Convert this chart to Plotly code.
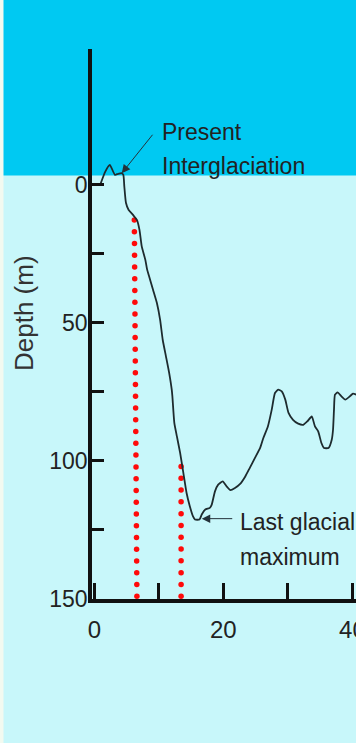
import numpy as np
import plotly.graph_objects as go

# ---- data ----
age_ka = [1.0, 1.7, 2.4, 3.2, 3.7, 4.25, 4.5, 4.65, 4.9, 5.3,
          6.0, 6.6, 7.0, 7.35, 7.9, 8.2, 8.5, 9.1, 9.7, 10.2,
          10.6, 11.1, 11.6, 12.0, 12.1, 12.4, 12.8, 13.3, 13.8, 14.3,
          14.8, 15.3, 15.6, 16.3, 16.65, 17.2, 17.9, 18.2, 18.7, 19.2,
          19.9, 20.5, 21.1, 21.8, 22.6, 23.4, 24.1, 24.9, 25.7, 26.2,
          26.9, 27.5, 28.0, 28.5, 29.05, 29.6, 30.1, 30.8, 31.6, 32.4,
          33.0, 33.7, 34.2, 34.7, 35.2, 35.6, 36.3, 36.8, 37.0, 37.15,
          37.3, 37.7, 38.3, 38.9, 39.6, 40.1, 40.6]
depth_m = [-0.6, -4.8, -7.2, -3.6, -4.0, -4.2, -3.6, 0.6, 6.5, 9.0,
           10.9, 12.7, 16.3, 22.3, 27.1, 30.8, 33.2, 38.0, 42.8, 48.9,
           56.1, 62.1, 68.1, 74.2, 76.6, 86.2, 91.1, 97.1, 104.3, 111.6,
           116.4, 120.1, 121.2, 121.2, 119.4, 117.6, 117.0, 115.8, 111.0, 108.6,
           107.4, 109.2, 110.6, 109.8, 108.3, 105.6, 102.5, 98.9, 95.3, 91.7,
           87.5, 81.4, 75.4, 74.2, 74.8, 77.8, 82.6, 85.1, 86.5, 86.9,
           85.7, 83.9, 87.5, 89.3, 93.5, 95.3, 95.3, 92.3, 88.7, 81.4,
           76.0, 75.2, 76.6, 77.8, 76.6, 75.6, 76.0]

# red dotted marker lines: (age at top, age at bottom, depth top, depth bottom)
marker_age_top = [6.2, 13.45]
marker_age_bottom = [6.6, 13.45]
marker_depth_top = [12.7, 102.0]
marker_depth_bottom = [149.0, 149.0]
dot_spacing_m = 4.27

sea_level_m = -3.4

y_ticks = [0, 25, 50, 75, 100, 125, 150]
y_ticktext = ["0", "", "50", "", "100", "", "150"]
x_ticks = [0, 10, 20, 30, 40]
x_ticktext = ["0", "", "20", "", "40"]

X_RANGE = [-0.36, 40.56]
Y_RANGE = [150, -49.2]

FONT = "Liberation Sans Narrow, Arial Narrow, Liberation Sans, Arial, sans-serif"
REG = "Liberation Sans, Arial, sans-serif"
TXT = "#222222"

fig = go.Figure()

# red dotted lines
for at, ab, dt, db in zip(marker_age_top, marker_age_bottom, marker_depth_top, marker_depth_bottom):
    n = int(round((db - dt) / dot_spacing_m)) + 1
    ds = np.linspace(dt, db, n)
    xs = at + (ab - at) * (ds - dt) / (db - dt)
    fig.add_trace(go.Scatter(x=xs, y=ds, mode="markers",
                             marker=dict(color="#ff0a0a", size=5.5, line=dict(width=0)),
                             hoverinfo="skip", showlegend=False, cliponaxis=False))

# sea-level curve
fig.add_trace(go.Scatter(x=age_ka, y=depth_m, mode="lines",
                         line=dict(color="#1e2b2e", width=1.8, shape="spline", smoothing=0.5),
                         showlegend=False, cliponaxis=True))

def yfrac(d):
    return (Y_RANGE[0] - d) / (Y_RANGE[0] - Y_RANGE[1])

# backgrounds
fig.add_shape(type="rect", xref="paper", yref="paper", x0=-1, x1=2,
              y0=yfrac(sea_level_m), y1=2, fillcolor="#00c9f2", line=dict(width=0), layer="below")
fig.add_shape(type="rect", xref="paper", yref="paper", x0=-92 / 264, x1=-88.5 / 264,
              y0=-1, y1=2, fillcolor="#f2faf0", line=dict(width=0), layer="below")

# annotations: arrows
fig.add_annotation(x=4.25, y=-4.2, xref="x", yref="y", text="", showarrow=True,
                   ax=32, ay=-40, arrowhead=2, arrowsize=1.7, arrowwidth=1, arrowcolor="#24323a")
fig.add_annotation(x=16.65, y=120.9, xref="x", yref="y", text="", showarrow=True,
                   ax=32, ay=0, arrowhead=2, arrowsize=1.7, arrowwidth=1, arrowcolor="#24323a")

# annotation texts
for txt, x, y in [("Present", 10.2, -19.2), ("Interglaciation", 10.2, -6.9),
                  ("Last glacial", 22.3, 122.1), ("maximum", 22.3, 134.8)]:
    fig.add_annotation(x=x, y=y, xref="x", yref="y", text=txt, showarrow=False,
                       xanchor="left", yanchor="middle",
                       font=dict(family=FONT, size=23, color=TXT))

# y-axis title
fig.add_annotation(x=-68 / 264, y=(599 - 313) / 550, xref="paper", yref="paper",
                   text="Depth (m)", textangle=-90, showarrow=False,
                   xanchor="center", yanchor="middle",
                   font=dict(family=REG, size=26, color="#333333"))

fig.update_xaxes(range=X_RANGE, autorange=False, automargin=False,
                 showgrid=False, zeroline=False,
                 showline=True, linecolor="#111111", linewidth=3.5,
                 ticks="inside", ticklen=16, tickwidth=3, tickcolor="#111111",
                 tickvals=x_ticks, ticktext=x_ticktext, ticklabeloverflow="allow",
                 ticklabelstandoff=6,
                 tickfont=dict(family=FONT, size=24, color=TXT))
fig.update_yaxes(range=Y_RANGE, autorange=False, automargin=False,
                 showgrid=False, zeroline=False,
                 showline=True, linecolor="#111111", linewidth=3.5,
                 ticks="inside", ticklen=12, tickwidth=3, tickcolor="#111111",
                 tickvals=y_ticks, ticktext=y_ticktext, ticklabeloverflow="allow",
                 ticklabelstandoff=-4,
                 tickfont=dict(family=FONT, size=23, color=TXT))

fig.update_layout(width=356, height=743,
                  margin=dict(l=92, r=0, t=49, b=144, pad=0, autoexpand=False),
                  paper_bgcolor="#c8f7fa", plot_bgcolor="rgba(0,0,0,0)",
                  showlegend=False)

fig.write_html("out.html", config={"displayModeBar": False},
               post_script="document.body.style.margin='0';document.body.style.overflow='hidden';")
